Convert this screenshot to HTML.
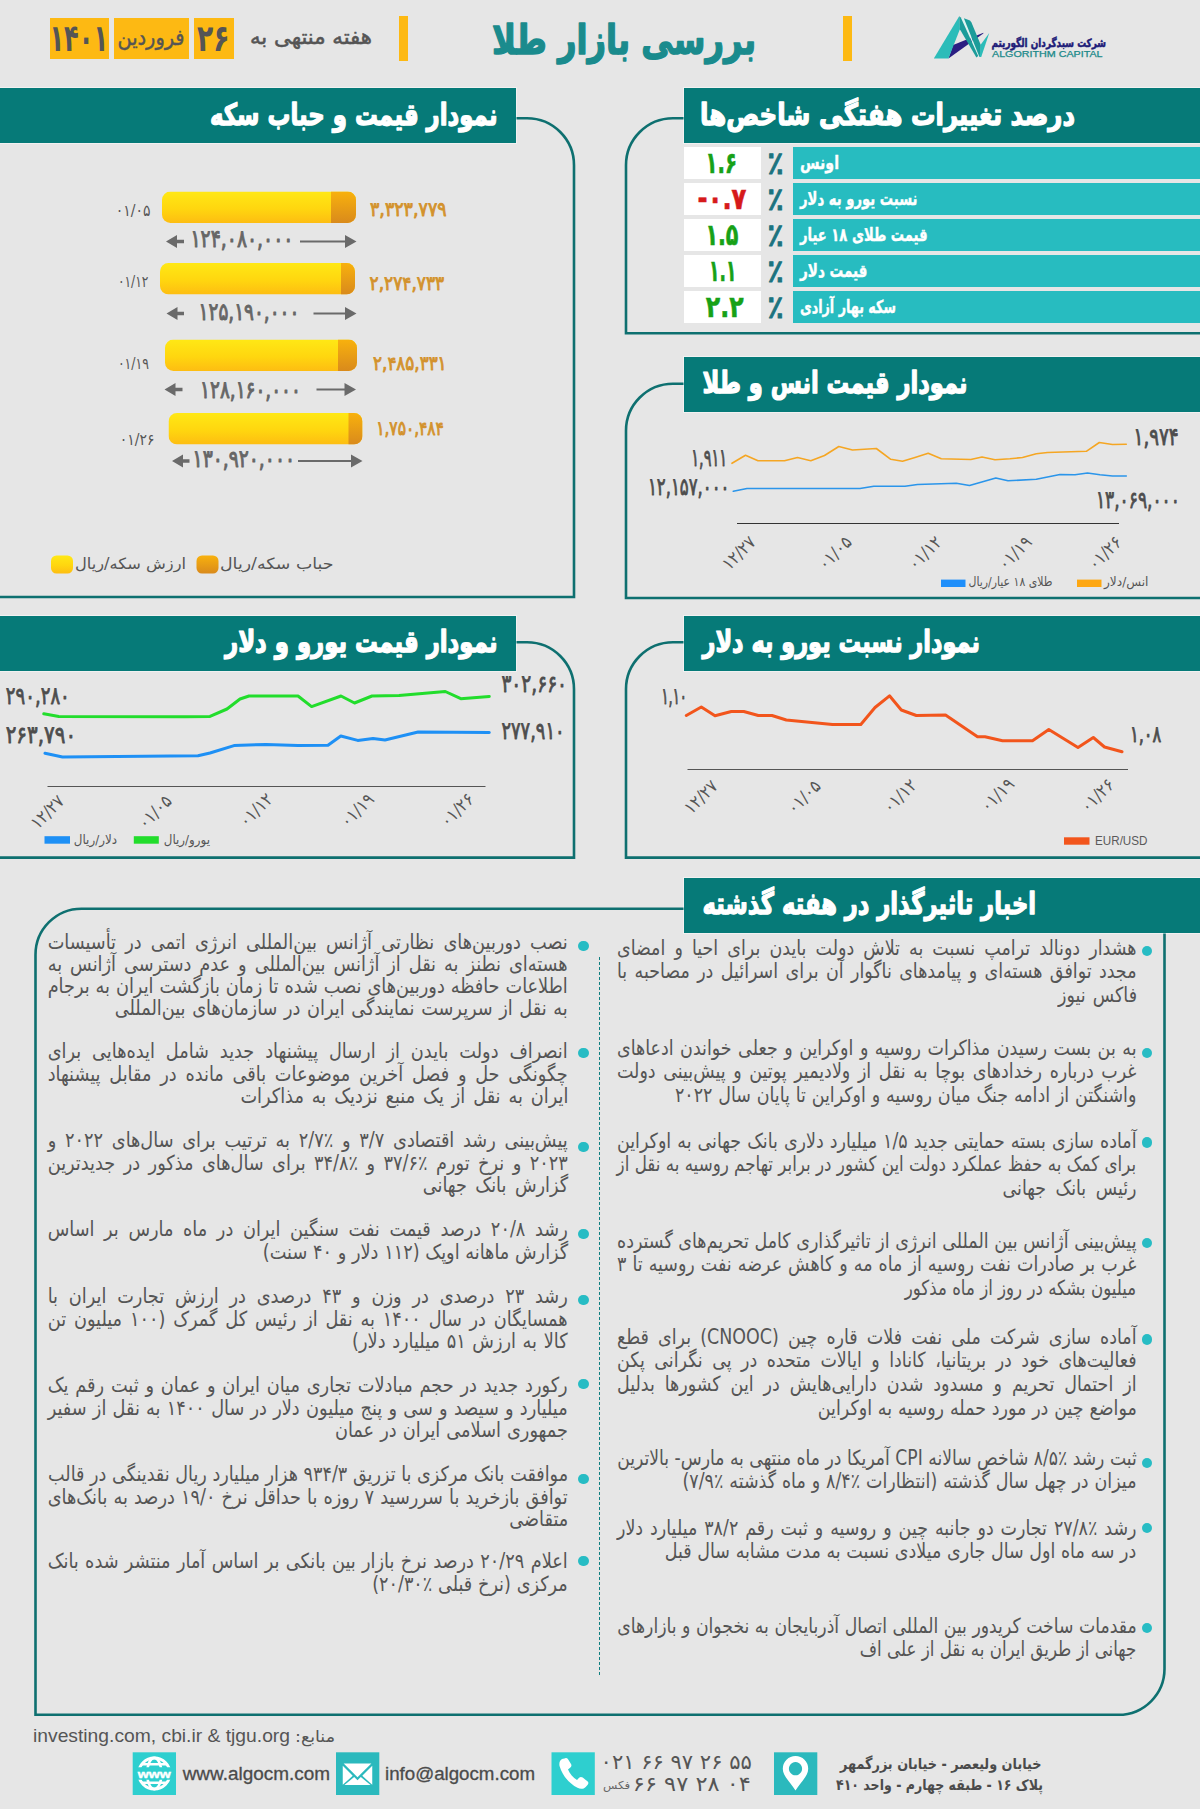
<!DOCTYPE html>
<html lang="fa">
<head>
<meta charset="utf-8">
<title>بررسی بازار طلا</title>
<style>
*{box-sizing:border-box;margin:0;padding:0}
html,body{width:1200px;height:1809px;overflow:hidden}
body{position:relative;background:#e6e6e6;color:#555;font-family:'DejaVu Sans','Liberation Sans',sans-serif}
.abs{position:absolute}
.bar{position:absolute;height:55px;background:#067a78;box-shadow:0 0 0 1px rgba(255,255,255,.45)}
.bar.r{left:684px;width:516px}
.bar.l{left:0;width:516px}
#ov{position:absolute;left:0;top:0;width:1200px;height:1809px;font-family:'DejaVu Sans','Liberation Sans',sans-serif}
.col{position:absolute;left:0;top:0;width:0;height:0;direction:rtl;font-family:'DejaVu Sans','Liberation Sans',sans-serif;color:#555}
.col .ln{position:absolute;white-space:nowrap;text-align:justify;text-align-last:justify;transform-origin:100% 0}
.bl{position:absolute;width:10.4px;height:10.4px;margin:-.2px 0 0 -.2px;border-radius:50%;background:#27bcc4}
</style>
</head>
<body>
<svg class="abs" style="left:0;top:0" width="1200" height="1809" viewBox="0 0 1200 1809"><g fill="none" stroke="#0e7070" stroke-width="2.6"><path d="M686,118.2 H673 A47,47 0 0 0 626,165.2 V333.2 H1202"/><path d="M686,383.7 H673 A47,47 0 0 0 626,430.7 V598 H1202"/><path d="M686,642.2 H673 A47,47 0 0 0 626,689.2 V857.6 H1202"/><path d="M514,118.2 H527 A47,47 0 0 1 574,165.2 V597 H-2"/><path d="M514,642.2 H527 A47,47 0 0 1 574,689.2 V857.6 H-2"/><path d="M686,908.7 H81.5 A46,46 0 0 0 35.5,954.7 V1714.8 H1118.5 A46,46 0 0 0 1164.5,1668.8 V931"/></g></svg>
<div class="bar r" style="top:88px"></div>
<div class="bar l" style="top:88px"></div>
<div class="bar r" style="top:357px"></div>
<div class="bar r" style="top:616px"></div>
<div class="bar l" style="top:616px"></div>
<div class="bar r" style="top:878px"></div>

<div class="abs" style="left:399px;top:16px;width:9px;height:45px;background:#fdb913"></div>
<div class="abs" style="left:843px;top:16px;width:9px;height:45px;background:#fdb913"></div>
<div class="abs" style="left:194px;top:18px;width:40px;height:41px;background:#fdb913"></div>
<div class="abs" style="left:114px;top:18px;width:75px;height:41px;background:#fdb913"></div>
<div class="abs" style="left:50px;top:18px;width:59px;height:41px;background:#fdb913"></div>
<div class="abs" style="left:684px;top:147.0px;width:77px;height:32px;background:#fff"></div><div class="abs" style="left:792.5px;top:147.0px;width:408px;height:32px;background:#27bcc0"></div><div class="abs" style="left:684px;top:183.0px;width:77px;height:32px;background:#fff"></div><div class="abs" style="left:792.5px;top:183.0px;width:408px;height:32px;background:#27bcc0"></div><div class="abs" style="left:684px;top:219.0px;width:77px;height:32px;background:#fff"></div><div class="abs" style="left:792.5px;top:219.0px;width:408px;height:32px;background:#27bcc0"></div><div class="abs" style="left:684px;top:255.0px;width:77px;height:32px;background:#fff"></div><div class="abs" style="left:792.5px;top:255.0px;width:408px;height:32px;background:#27bcc0"></div><div class="abs" style="left:684px;top:291.0px;width:77px;height:32px;background:#fff"></div><div class="abs" style="left:792.5px;top:291.0px;width:408px;height:32px;background:#27bcc0"></div><div class="col" style="font-size:20.6px;line-height:22px">
<div class="ln" style="left:-36.7px;width:604.7px;top:930.7px;transform:scaleX(0.8600)">نصب دوربین‌های نظارتی آژانس بین‌المللی انرژی اتمی در تأسیسات</div>
<div class="ln" style="left:-36.7px;width:604.7px;top:952.8px;transform:scaleX(0.8600)">هسته‌ای نطنز به نقل از آژانس بین‌المللی و عدم دسترسی آژانس به</div>
<div class="ln" style="left:-36.7px;width:604.7px;top:975.0px;transform:scaleX(0.8600)">اطلاعات حافظه دوربین‌های نصب شده تا زمان بازگشت ایران به برجام</div>
<div class="ln" style="left:41.3px;width:526.7px;top:997.1px;transform:scaleX(0.8600)">به نقل از سرپرست نمایندگی ایران در سازمان‌های بین‌المللی</div>
<div class="ln" style="left:-36.7px;width:604.7px;top:1040.4px;transform:scaleX(0.8600)">انصراف دولت بایدن از ارسال پیشنهاد جدید شامل ایده‌هایی برای</div>
<div class="ln" style="left:-36.7px;width:604.7px;top:1062.5px;transform:scaleX(0.8600)">چگونگی حل و فصل آخرین موضوعات باقی مانده در مقابل پیشنهاد</div>
<div class="ln" style="left:186.6px;width:381.4px;top:1084.7px;transform:scaleX(0.8600)">ایران به نقل از یک منبع نزدیک به مذاکرات</div>
<div class="ln" style="left:-36.7px;width:604.7px;top:1129.4px;transform:scaleX(0.8600)">پیش‌بینی رشد اقتصادی ۳/۷ و ٪۲/۷ به ترتیب برای سال‌های ۲۰۲۲ و</div>
<div class="ln" style="left:-36.7px;width:604.7px;top:1151.5px;transform:scaleX(0.8600)">۲۰۲۳ و نرخ تورم ٪۳۷/۶ و ٪۳۴/۸ برای سال‌های مذکور در جدیدترین</div>
<div class="ln" style="left:398.8px;width:169.2px;top:1173.7px;transform:scaleX(0.8600)">گزارش بانک جهانی</div>
<div class="ln" style="left:-36.7px;width:604.7px;top:1218.4px;transform:scaleX(0.8600)">رشد ۲۰/۸ درصد قیمت نفت سنگین ایران در ماه مارس بر اساس</div>
<div class="ln" style="left:212.7px;width:355.3px;top:1240.5px;transform:scaleX(0.8598)">گزارش ماهانه اوپک (۱۱۲ دلار و ۴۰ سنت)</div>
<div class="ln" style="left:-36.7px;width:604.7px;top:1285.4px;transform:scaleX(0.8600)">رشد ۲۳ درصدی در وزن و ۴۳ درصدی در ارزش تجارت ایران با</div>
<div class="ln" style="left:-36.7px;width:604.7px;top:1307.5px;transform:scaleX(0.8600)">همسایگان در سال ۱۴۰۰ به نقل از رئیس کل گمرک (۱۰۰ میلیون تن</div>
<div class="ln" style="left:317.4px;width:250.6px;top:1329.7px;transform:scaleX(0.8600)">کالا به ارزش ۵۱ میلیارد دلار)</div>
<div class="ln" style="left:-36.7px;width:604.7px;top:1374.4px;transform:scaleX(0.8600)">رکورد جدید در حجم مبادلات تجاری میان ایران و عمان و ثبت رقم یک</div>
<div class="ln" style="left:-36.7px;width:604.7px;top:1396.5px;transform:scaleX(0.8600)">میلیارد و سیصد و سی و پنج میلیون دلار در سال ۱۴۰۰ به نقل از سفیر</div>
<div class="ln" style="left:297.1px;width:270.9px;top:1418.7px;transform:scaleX(0.8600)">جمهوری اسلامی ایران در عمان</div>
<div class="ln" style="left:-41.1px;width:609.1px;top:1463.4px;transform:scaleX(0.8537)">موافقت بانک مرکزی با تزریق ۹۳۴/۳ هزار میلیارد ریال نقدینگی در قالب</div>
<div class="ln" style="left:-36.7px;width:604.7px;top:1485.5px;transform:scaleX(0.8600)">توافق بازخرید با سررسید ۷ روزه با حداقل نرخ ۱۹/۰ درصد به بانک‌های</div>
<div class="ln" style="left:497.7px;width:70.3px;top:1507.7px;transform:scaleX(0.8600)">متقاضی</div>
<div class="ln" style="left:-36.7px;width:604.7px;top:1550.4px;transform:scaleX(0.8600)">اعلام ۲۰/۲۹ درصد نرخ بازار بین بانکی بر اساس آمار منتشر شده بانک</div>
<div class="ln" style="left:339.3px;width:228.7px;top:1572.5px;transform:scaleX(0.8550)">مرکزی (نرخ قبلی ٪۲۰/۳۰)</div>
</div>
<div class="bl" style="left:578.5px;top:940.8px"></div>
<div class="bl" style="left:578.5px;top:1047.8px"></div>
<div class="bl" style="left:578.5px;top:1141.8px"></div>
<div class="bl" style="left:578.5px;top:1228.8px"></div>
<div class="bl" style="left:578.5px;top:1294.9px"></div>
<div class="bl" style="left:578.5px;top:1379.2px"></div>
<div class="bl" style="left:578.5px;top:1473.9px"></div>
<div class="bl" style="left:578.5px;top:1555.7px"></div><div class="col" style="font-size:20.8px;line-height:23px">
<div class="ln" style="left:518.0px;width:618.5px;top:936.8px;transform:scaleX(0.8400)">هشدار دونالد ترامپ نسبت به تلاش دولت بایدن برای احیا و امضای</div>
<div class="ln" style="left:518.0px;width:618.5px;top:960.4px;transform:scaleX(0.8400)">مجدد توافق هسته‌ای و پیامدهای ناگوار آن برای اسرائیل در مصاحبه با</div>
<div class="ln" style="left:1042.5px;width:94.0px;top:984.0px;transform:scaleX(0.8400)">فاکس نیوز</div>
<div class="ln" style="left:518.0px;width:618.5px;top:1036.8px;transform:scaleX(0.8400)">به بن بست رسیدن مذاکرات روسیه و اوکراین و جعلی خواندن ادعاهای</div>
<div class="ln" style="left:518.0px;width:618.5px;top:1060.4px;transform:scaleX(0.8400)">غرب درباره رخدادهای بوچا به نقل از ولادیمیر پوتین و پیش‌بینی دولت</div>
<div class="ln" style="left:587.1px;width:549.4px;top:1084.0px;transform:scaleX(0.8400)">واشنگتن از ادامه جنگ میان روسیه و اوکراین تا پایان سال ۲۰۲۲</div>
<div class="ln" style="left:518.0px;width:618.5px;top:1129.8px;transform:scaleX(0.8400)">آماده سازی بسته حمایتی جدید ۱/۵ میلیارد دلاری بانک جهانی به اوکراین</div>
<div class="ln" style="left:489.4px;width:647.1px;top:1153.4px;transform:scaleX(0.8028)">برای کمک به حفظ عملکرد دولت این کشور در برابر تهاجم روسیه به نقل از</div>
<div class="ln" style="left:977.0px;width:159.5px;top:1177.0px;transform:scaleX(0.8400)">رئیس بانک جهانی</div>
<div class="ln" style="left:518.0px;width:618.5px;top:1229.8px;transform:scaleX(0.8399)">پیش‌بینی آژانس بین المللی انرژی از تاثیرگذاری کامل تحریم‌های گسترده</div>
<div class="ln" style="left:518.0px;width:618.5px;top:1253.4px;transform:scaleX(0.8400)">غرب بر صادرات نفت روسیه از ماه مه و کاهش عرضه نفت روسیه تا ۳</div>
<div class="ln" style="left:846.3px;width:290.2px;top:1277.0px;transform:scaleX(0.7976)">میلیون بشکه در روز از ماه مذکور</div>
<div class="ln" style="left:518.0px;width:618.5px;top:1325.8px;transform:scaleX(0.8400)">آماده سازی شرکت ملی نفت فلات قاره چین (CNOOC) برای قطع</div>
<div class="ln" style="left:518.0px;width:618.5px;top:1349.4px;transform:scaleX(0.8400)">فعالیت‌های خود در بریتانیا، کانادا و ایالات متحده در پی نگرانی پکن</div>
<div class="ln" style="left:518.0px;width:618.5px;top:1373.0px;transform:scaleX(0.8400)">از احتمال تحریم و مسدود شدن دارایی‌هایش در این کشورها بدلیل</div>
<div class="ln" style="left:756.7px;width:379.8px;top:1396.6px;transform:scaleX(0.8400)">مواضع چین در مورد حمله روسیه به اوکراین</div>
<div class="ln" style="left:506.8px;width:629.7px;top:1446.8px;transform:scaleX(0.8250)">ثبت رشد ٪۸/۵ شاخص سالانه CPI آمریکا در ماه منتهی به مارس- بالاترین</div>
<div class="ln" style="left:596.0px;width:540.5px;top:1470.4px;transform:scaleX(0.8400)">میزان در چهل سال گذشته (انتظارات ٪۸/۴ و ماه گذشته ٪۷/۹)</div>
<div class="ln" style="left:518.0px;width:618.5px;top:1516.8px;transform:scaleX(0.8400)">رشد ٪۲۷/۸ تجارت دو جانبه چین و روسیه و ثبت رقم ۳۸/۲ میلیارد دلار</div>
<div class="ln" style="left:575.2px;width:561.3px;top:1540.4px;transform:scaleX(0.8400)">در سه ماه اول سال جاری میلادی نسبت به مدت مشابه سال قبل</div>
<div class="ln" style="left:509.8px;width:626.7px;top:1614.8px;transform:scaleX(0.8289)">مقدمات ساخت کریدور بین المللی اتصال آذربایجان به نخجوان و بازارهای</div>
<div class="ln" style="left:791.2px;width:345.3px;top:1638.4px;transform:scaleX(0.8008)">جهانی از طریق ایران به نقل از علی اف</div>
</div>
<div class="bl" style="left:1142.0px;top:946.0px"></div>
<div class="bl" style="left:1142.0px;top:1047.8px"></div>
<div class="bl" style="left:1142.0px;top:1137.4px"></div>
<div class="bl" style="left:1142.0px;top:1238.0px"></div>
<div class="bl" style="left:1142.0px;top:1334.5px"></div>
<div class="bl" style="left:1142.0px;top:1457.7px"></div>
<div class="bl" style="left:1142.0px;top:1523.0px"></div>
<div class="bl" style="left:1142.0px;top:1623.2px"></div><div class="abs" style="left:599px;top:957px;width:0;height:718px;border-left:1.5px dashed #0f7f80"></div>
<svg id="ov" width="1200" height="1809" viewBox="0 0 1200 1809">
<text font-size="41" fill="#1a8b8d" textLength="264.0" lengthAdjust="spacingAndGlyphs" font-weight="bold" stroke="#1a8b8d" stroke-width="1.5" stroke-linejoin="round" x="756.0" y="53.5" direction="rtl" unicode-bidi="embed" >بررسی بازار طلا</text>
<text font-size="21" fill="#555" textLength="122.0" lengthAdjust="spacingAndGlyphs" stroke="#555" stroke-width="0.55" stroke-linejoin="round" x="372.0" y="44.0" direction="rtl" unicode-bidi="embed" >هفته منتهی به</text>
<text font-size="37.4" fill="#555" textLength="32.6" lengthAdjust="spacingAndGlyphs" font-weight="bold" x="196.9" y="50.8" direction="ltr" >۲۶</text>
<text font-size="22" fill="#555" textLength="67.0" lengthAdjust="spacingAndGlyphs" stroke="#555" stroke-width="0.45" stroke-linejoin="round" x="184.5" y="44.5" direction="rtl" unicode-bidi="embed" >فروردین</text>
<text font-size="37.4" fill="#555" textLength="58.8" lengthAdjust="spacingAndGlyphs" font-weight="bold" x="49.4" y="50.8" direction="ltr" >۱۴۰۱</text>

<g id="logo">
 <polygon points="953.09,45.01 948.42,58.42 983.31,33.45 983.43,32.87" fill="#2b1e82"/>
 <polygon points="933.83,58.42 959.21,16.13 959.97,28.96 948.42,58.42" fill="#2cbcb9"/>
 <polygon points="961.55,18.75 963.88,18.17 979.34,56.67 978.18,56.09" fill="#dcf4f2"/>
 <polygon points="959.21,16.13 960.79,17.47 978.18,56.09 976.42,57.55 959.86,29.25" fill="#1b9c9a"/>
 <polygon points="963.88,18.17 970.01,20.50 971.47,22.54 980.80,45.01 980.51,56.67 979.34,56.67" fill="#1b9c9a"/>
 <polygon points="980.80,44.42 989.26,33.05 981.21,56.97 979.63,56.97" fill="#2cbcb9"/>
</g>
<text font-size="11.5" fill="#211c78" textLength="114.5" lengthAdjust="spacingAndGlyphs" font-weight="bold" stroke="#211c78" stroke-width="0.5" stroke-linejoin="round" x="1106.0" y="46.5" direction="rtl" unicode-bidi="embed" >شرکت سبدگردان الگوریتم</text>
<text font-size="8.2" fill="#1c8a8a" textLength="110.5" lengthAdjust="spacingAndGlyphs" font-family="'Liberation Sans','DejaVu Sans',sans-serif" stroke="#1c8a8a" stroke-width="0.25" stroke-linejoin="round" x="992.0" y="57.2" direction="ltr" >ALGORITHM CAPITAL</text>
<text font-size="30" fill="#ffffff" textLength="375.0" lengthAdjust="spacingAndGlyphs" font-weight="bold" stroke="#ffffff" stroke-width="1.3" stroke-linejoin="round" x="1075.0" y="124.5" direction="rtl" unicode-bidi="embed" >درصد تغییرات هفتگی شاخص‌ها</text>
<text font-size="30" fill="#ffffff" textLength="287.5" lengthAdjust="spacingAndGlyphs" font-weight="bold" stroke="#ffffff" stroke-width="1.3" stroke-linejoin="round" x="497.5" y="124.5" direction="rtl" unicode-bidi="embed" >نمودار قیمت و حباب سکه</text>
<text font-size="30" fill="#ffffff" textLength="265.0" lengthAdjust="spacingAndGlyphs" font-weight="bold" stroke="#ffffff" stroke-width="1.3" stroke-linejoin="round" x="967.5" y="393.0" direction="rtl" unicode-bidi="embed" >نمودار قیمت انس و طلا</text>
<text font-size="30" fill="#ffffff" textLength="277.5" lengthAdjust="spacingAndGlyphs" font-weight="bold" stroke="#ffffff" stroke-width="1.3" stroke-linejoin="round" x="980.0" y="652.0" direction="rtl" unicode-bidi="embed" >نمودار نسبت یورو به دلار</text>
<text font-size="30" fill="#ffffff" textLength="272.5" lengthAdjust="spacingAndGlyphs" font-weight="bold" stroke="#ffffff" stroke-width="1.3" stroke-linejoin="round" x="497.5" y="652.0" direction="rtl" unicode-bidi="embed" >نمودار قیمت یورو و دلار</text>
<text font-size="30" fill="#ffffff" textLength="333.5" lengthAdjust="spacingAndGlyphs" font-weight="bold" stroke="#ffffff" stroke-width="1.3" stroke-linejoin="round" x="1036.0" y="914.0" direction="rtl" unicode-bidi="embed" >اخبار تاثیرگذار در هفته گذشته</text>
<text font-size="18" fill="#ffffff" textLength="39.0" lengthAdjust="spacingAndGlyphs" font-weight="bold" stroke="#ffffff" stroke-width="0.4" stroke-linejoin="round" x="839.0" y="169.0" direction="rtl" unicode-bidi="embed" >اونس</text>
<text font-size="32" fill="#1b737f" textLength="16.0" lengthAdjust="spacingAndGlyphs" font-weight="bold" stroke="#1b737f" stroke-width="1.0" stroke-linejoin="round" x="767.5" y="174.0" direction="ltr" >٪</text>
<text font-size="29.8" fill="#17a117" textLength="31.5" lengthAdjust="spacingAndGlyphs" font-weight="bold" x="705.4" y="172.8" direction="ltr" stroke="#17a117" stroke-width="0.6">۱.۶</text>
<text font-size="18" fill="#ffffff" textLength="117.5" lengthAdjust="spacingAndGlyphs" font-weight="bold" stroke="#ffffff" stroke-width="0.4" stroke-linejoin="round" x="917.5" y="205.0" direction="rtl" unicode-bidi="embed" >نسبت یورو به دلار</text>
<text font-size="32" fill="#1b737f" textLength="16.0" lengthAdjust="spacingAndGlyphs" font-weight="bold" stroke="#1b737f" stroke-width="1.0" stroke-linejoin="round" x="767.5" y="210.0" direction="ltr" >٪</text>
<text font-size="29.8" fill="#d61a1a" textLength="48.8" lengthAdjust="spacingAndGlyphs" font-weight="bold" x="697.6" y="208.8" direction="ltr" stroke="#d61a1a" stroke-width="0.6">-۰.۷</text>
<text font-size="18" fill="#ffffff" textLength="127.5" lengthAdjust="spacingAndGlyphs" font-weight="bold" stroke="#ffffff" stroke-width="0.4" stroke-linejoin="round" x="927.5" y="241.0" direction="rtl" unicode-bidi="embed" >قیمت طلای ۱۸ عیار</text>
<text font-size="32" fill="#1b737f" textLength="16.0" lengthAdjust="spacingAndGlyphs" font-weight="bold" stroke="#1b737f" stroke-width="1.0" stroke-linejoin="round" x="767.5" y="246.0" direction="ltr" >٪</text>
<text font-size="29.8" fill="#17a117" textLength="33.1" lengthAdjust="spacingAndGlyphs" font-weight="bold" x="705.4" y="244.8" direction="ltr" stroke="#17a117" stroke-width="0.6">۱.۵</text>
<text font-size="18" fill="#ffffff" textLength="67.5" lengthAdjust="spacingAndGlyphs" font-weight="bold" stroke="#ffffff" stroke-width="0.4" stroke-linejoin="round" x="867.5" y="277.0" direction="rtl" unicode-bidi="embed" >قیمت دلار</text>
<text font-size="32" fill="#1b737f" textLength="16.0" lengthAdjust="spacingAndGlyphs" font-weight="bold" stroke="#1b737f" stroke-width="1.0" stroke-linejoin="round" x="767.5" y="282.0" direction="ltr" >٪</text>
<text font-size="29.8" fill="#17a117" textLength="27.3" lengthAdjust="spacingAndGlyphs" font-weight="bold" x="709.0" y="280.8" direction="ltr" stroke="#17a117" stroke-width="0.6">۱.۱</text>
<text font-size="18" fill="#ffffff" textLength="96.0" lengthAdjust="spacingAndGlyphs" font-weight="bold" stroke="#ffffff" stroke-width="0.4" stroke-linejoin="round" x="896.0" y="313.0" direction="rtl" unicode-bidi="embed" >سکه بهار آزادی</text>
<text font-size="32" fill="#1b737f" textLength="16.0" lengthAdjust="spacingAndGlyphs" font-weight="bold" stroke="#1b737f" stroke-width="1.0" stroke-linejoin="round" x="767.5" y="318.0" direction="ltr" >٪</text>
<text font-size="29.8" fill="#17a117" textLength="37.8" lengthAdjust="spacingAndGlyphs" font-weight="bold" x="705.8" y="316.8" direction="ltr" stroke="#17a117" stroke-width="0.6">۲.۲</text>
<defs>
<linearGradient id="gy" x1="0" y1="0" x2="0" y2="1"><stop offset="0" stop-color="#ffe815"/><stop offset=".55" stop-color="#ffd60f"/><stop offset="1" stop-color="#fdbd12"/></linearGradient>
<linearGradient id="go" x1="0" y1="0" x2="0" y2="1"><stop offset="0" stop-color="#f8b10d"/><stop offset="1" stop-color="#d98a1c"/></linearGradient>
</defs>
<clipPath id="cc0"><rect x="162" y="191.5" width="194" height="31.5" rx="8.5"/></clipPath><g clip-path="url(#cc0)"><rect x="162" y="191.5" width="194" height="31.5" fill="url(#gy)"/><rect x="331" y="191.5" width="25" height="31.5" fill="url(#go)"/></g>
<text font-size="16.0" fill="#555" textLength="34.7" lengthAdjust="spacingAndGlyphs" x="115.8" y="215.8" direction="ltr" >۰۱/۰۵</text>
<text font-size="19.5" fill="#d3922c" textLength="76.6" lengthAdjust="spacingAndGlyphs" stroke="#d3922c" stroke-width="0.9" stroke-linejoin="round" x="370.0" y="216.4" direction="ltr" >۳,۳۲۳,۷۷۹</text>
<text font-size="24.1" fill="#666" textLength="102.9" lengthAdjust="spacingAndGlyphs" stroke="#666" stroke-width="1.0" stroke-linejoin="round" x="190.5" y="246.9" direction="ltr" >۱۲۴,۰۸۰,۰۰۰</text>
<path d="M166,241.5 l11,-6.5 v4.7 h7 v3.6 h-7 v4.7 z" fill="#6a6a6a"/>
<path d="M356.5,241.5 l-11.5,-6.5 v5.5 h-45.0 v2 h45.0 v5.5 z" fill="#6a6a6a"/>
<clipPath id="cc1"><rect x="160" y="263" width="195" height="31.5" rx="8.5"/></clipPath><g clip-path="url(#cc1)"><rect x="160" y="263" width="195" height="31.5" fill="url(#gy)"/><rect x="341" y="263" width="14" height="31.5" fill="url(#go)"/></g>
<text font-size="16.0" fill="#555" textLength="30.5" lengthAdjust="spacingAndGlyphs" x="117.9" y="287.2" direction="ltr" >۰۱/۱۲</text>
<text font-size="19.5" fill="#d3922c" textLength="74.6" lengthAdjust="spacingAndGlyphs" stroke="#d3922c" stroke-width="0.9" stroke-linejoin="round" x="369.6" y="290.4" direction="ltr" >۲,۲۷۴,۷۳۳</text>
<text font-size="24.1" fill="#666" textLength="100.8" lengthAdjust="spacingAndGlyphs" stroke="#666" stroke-width="1.0" stroke-linejoin="round" x="198.6" y="319.9" direction="ltr" >۱۲۵,۱۹۰,۰۰۰</text>
<path d="M166.5,313.5 l11,-6.5 v4.7 h6.5 v3.6 h-6.5 v4.7 z" fill="#6a6a6a"/>
<path d="M356.5,313.5 l-11.5,-6.5 v5.5 h-31.5 v2 h31.5 v5.5 z" fill="#6a6a6a"/>
<clipPath id="cc2"><rect x="165" y="339.5" width="192" height="31.5" rx="8.5"/></clipPath><g clip-path="url(#cc2)"><rect x="165" y="339.5" width="192" height="31.5" fill="url(#gy)"/><rect x="338" y="339.5" width="19" height="31.5" fill="url(#go)"/></g>
<text font-size="16.0" fill="#555" textLength="31.0" lengthAdjust="spacingAndGlyphs" x="117.9" y="368.8" direction="ltr" >۰۱/۱۹</text>
<text font-size="19.5" fill="#d3922c" textLength="73.5" lengthAdjust="spacingAndGlyphs" stroke="#d3922c" stroke-width="0.9" stroke-linejoin="round" x="373.1" y="369.9" direction="ltr" >۲,۴۸۵,۳۳۱</text>
<text font-size="24.1" fill="#666" textLength="100.8" lengthAdjust="spacingAndGlyphs" stroke="#666" stroke-width="1.0" stroke-linejoin="round" x="200.1" y="398.1" direction="ltr" >۱۲۸,۱۶۰,۰۰۰</text>
<path d="M164.5,389.5 l11,-6.5 v4.7 h7.0 v3.6 h-7.0 v4.7 z" fill="#6a6a6a"/>
<path d="M356,389.5 l-11.5,-6.5 v5.5 h-28.0 v2 h28.0 v5.5 z" fill="#6a6a6a"/>
<clipPath id="cc3"><rect x="168.5" y="413" width="194.0" height="31.5" rx="8.5"/></clipPath><g clip-path="url(#cc3)"><rect x="168.5" y="413" width="194.0" height="31.5" fill="url(#gy)"/><rect x="348.5" y="413" width="14.0" height="31.5" fill="url(#go)"/></g>
<text font-size="16.0" fill="#555" textLength="34.7" lengthAdjust="spacingAndGlyphs" x="119.8" y="445.2" direction="ltr" >۰۱/۲۶</text>
<text font-size="19.5" fill="#d3922c" textLength="67.7" lengthAdjust="spacingAndGlyphs" stroke="#d3922c" stroke-width="0.9" stroke-linejoin="round" x="376.2" y="434.9" direction="ltr" >۱,۷۵۰,۴۸۴</text>
<text font-size="24.1" fill="#666" textLength="102.4" lengthAdjust="spacingAndGlyphs" stroke="#666" stroke-width="1.0" stroke-linejoin="round" x="192.6" y="466.9" direction="ltr" >۱۳۰,۹۲۰,۰۰۰</text>
<path d="M172,461 l11,-6.5 v4.7 h6.5 v3.6 h-6.5 v4.7 z" fill="#6a6a6a"/>
<path d="M362.5,461 l-11.5,-6.5 v5.5 h-53.0 v2 h53.0 v5.5 z" fill="#6a6a6a"/>
<rect x="51" y="555.5" width="22" height="18" rx="5.5" fill="url(#gy)"/><rect x="196.5" y="555.5" width="22" height="18" rx="5.5" fill="url(#go)"/>
<text font-size="15.5" fill="#555" textLength="111.0" lengthAdjust="spacingAndGlyphs" x="186.0" y="568.5" direction="rtl" unicode-bidi="embed" >ارزش سکه/ریال</text>
<text font-size="15.5" fill="#555" textLength="113.5" lengthAdjust="spacingAndGlyphs" x="333.5" y="568.5" direction="rtl" unicode-bidi="embed" >حباب سکه/ریال</text>
<polyline fill="none" stroke="#f5a623" stroke-width="1.6" stroke-linejoin="round" stroke-linecap="round" points="732.0,463.3 745.5,455.3 758.0,460.8 784.5,460.8 797.5,457.5 810.8,460.8 824.5,455.5 838.8,446.5 852.5,450.0 876.3,448.5 890.8,459.3 902.5,461.3 915.0,457.5 928.2,453.3 941.3,458.8 970.8,459.5 982.0,457.0 995.0,459.8 1010.0,458.8 1022.5,457.5 1036.3,453.8 1047.5,452.5 1086.3,451.3 1099.3,442.5 1112.5,444.5 1126.3,444.3"/>
<polyline fill="none" stroke="#2b95ea" stroke-width="1.6" stroke-linejoin="round" stroke-linecap="round" points="733.3,491.3 747.0,488.5 860.0,488.5 873.8,486.3 905.0,486.3 917.5,484.5 956.3,483.3 969.5,485.5 995.8,478.0 1008.0,480.8 1036.3,479.3 1060.0,474.5 1075.0,474.8 1087.5,473.0 1100.0,474.8 1112.5,476.0 1126.3,476.0"/>
<line x1="737" y1="523.5" x2="1119" y2="523.5" stroke="#333" stroke-width="1"/>
<text font-size="24.1" fill="#4d4d4d" textLength="35.7" lengthAdjust="spacingAndGlyphs" stroke="#4d4d4d" stroke-width="0.85" stroke-linejoin="round" x="691.3" y="465.9" direction="ltr" >۱,۹۱۱</text>
<text font-size="24.1" fill="#4d4d4d" textLength="81.4" lengthAdjust="spacingAndGlyphs" stroke="#4d4d4d" stroke-width="0.85" stroke-linejoin="round" x="648.0" y="495.4" direction="ltr" >۱۲,۱۵۷,۰۰۰</text>
<text font-size="24.1" fill="#4d4d4d" textLength="45.1" lengthAdjust="spacingAndGlyphs" stroke="#4d4d4d" stroke-width="0.85" stroke-linejoin="round" x="1133.6" y="444.9" direction="ltr" >۱,۹۷۴</text>
<text font-size="24.1" fill="#4d4d4d" textLength="84.0" lengthAdjust="spacingAndGlyphs" stroke="#4d4d4d" stroke-width="0.85" stroke-linejoin="round" x="1095.9" y="508.4" direction="ltr" >۱۳,۰۶۹,۰۰۰</text>
<text transform="translate(739.0,553.0) rotate(-45)" x="-19.5" y="5.8" font-size="17.6" fill="#555" textLength="39" lengthAdjust="spacingAndGlyphs" direction="ltr">۱۲/۲۷</text>
<text transform="translate(835.0,553.0) rotate(-45)" x="-19.5" y="5.8" font-size="17.6" fill="#555" textLength="39" lengthAdjust="spacingAndGlyphs" direction="ltr">۰۱/۰۵</text>
<text transform="translate(925.0,553.0) rotate(-45)" x="-19.5" y="5.8" font-size="17.6" fill="#555" textLength="39" lengthAdjust="spacingAndGlyphs" direction="ltr">۰۱/۱۲</text>
<text transform="translate(1015.0,553.0) rotate(-45)" x="-19.5" y="5.8" font-size="17.6" fill="#555" textLength="39" lengthAdjust="spacingAndGlyphs" direction="ltr">۰۱/۱۹</text>
<text transform="translate(1105.0,553.0) rotate(-45)" x="-19.5" y="5.8" font-size="17.6" fill="#555" textLength="39" lengthAdjust="spacingAndGlyphs" direction="ltr">۰۱/۲۶</text>
<rect x="941" y="579.6" width="24.5" height="7.4" fill="#1f8ffa"/><rect x="1077" y="579.6" width="24.5" height="7.4" fill="#fda712"/>
<text font-size="12.5" fill="#555" textLength="84.0" lengthAdjust="spacingAndGlyphs" x="1052.5" y="586.0" direction="rtl" unicode-bidi="embed" >طلای ۱۸ عیار/ریال</text>
<text font-size="12.5" fill="#555" textLength="44.5" lengthAdjust="spacingAndGlyphs" x="1148.5" y="586.0" direction="rtl" unicode-bidi="embed" >انس/دلار</text>
<polyline fill="none" stroke="#f2551c" stroke-width="3" stroke-linejoin="round" stroke-linecap="round" points="686.3,715.5 701.3,707.0 715.0,715.8 731.3,711.5 743.8,711.5 758.3,715.5 772.0,715.5 786.3,720.0 832.5,724.5 860.8,724.5 875.0,707.5 889.5,695.8 901.3,710.0 916.3,715.5 945.5,715.0 977.5,736.8 985.0,736.8 1002.5,740.8 1032.5,740.8 1048.8,729.5 1078.0,747.5 1093.3,737.5 1104.5,747.0 1122.0,751.8"/>
<line x1="687.5" y1="769.5" x2="1128" y2="769.5" stroke="#555" stroke-width="1"/>
<text font-size="22.6" fill="#4d4d4d" textLength="25.2" lengthAdjust="spacingAndGlyphs" stroke="#4d4d4d" stroke-width="0.85" stroke-linejoin="round" x="661.5" y="704.2" direction="ltr" >۱,۱۰</text>
<text font-size="22.6" fill="#4d4d4d" textLength="31.5" lengthAdjust="spacingAndGlyphs" stroke="#4d4d4d" stroke-width="0.85" stroke-linejoin="round" x="1129.9" y="741.9" direction="ltr" >۱,۰۸</text>
<text transform="translate(701.0,797.0) rotate(-45)" x="-19.5" y="5.8" font-size="17.6" fill="#555" textLength="39" lengthAdjust="spacingAndGlyphs" direction="ltr">۱۲/۲۷</text>
<text transform="translate(804.0,797.0) rotate(-45)" x="-19.5" y="5.8" font-size="17.6" fill="#555" textLength="39" lengthAdjust="spacingAndGlyphs" direction="ltr">۰۱/۰۵</text>
<text transform="translate(900.0,796.0) rotate(-45)" x="-19.5" y="5.8" font-size="17.6" fill="#555" textLength="39" lengthAdjust="spacingAndGlyphs" direction="ltr">۰۱/۱۲</text>
<text transform="translate(997.5,795.0) rotate(-45)" x="-19.5" y="5.8" font-size="17.6" fill="#555" textLength="39" lengthAdjust="spacingAndGlyphs" direction="ltr">۰۱/۱۹</text>
<text transform="translate(1097.5,795.5) rotate(-45)" x="-19.5" y="5.8" font-size="17.6" fill="#555" textLength="39" lengthAdjust="spacingAndGlyphs" direction="ltr">۰۱/۲۶</text>
<rect x="1064" y="837.3" width="25.5" height="7.4" fill="#f2551c"/>
<text font-size="12.3" fill="#5a5a5a" textLength="52.5" lengthAdjust="spacingAndGlyphs" font-family="'Liberation Sans','DejaVu Sans',sans-serif" x="1095.0" y="844.5" direction="ltr" >EUR/USD</text>
<polyline fill="none" stroke="#22dd2c" stroke-width="3" stroke-linejoin="round" stroke-linecap="round" points="43.8,713.8 58.8,716.5 185.0,716.8 210.0,716.4 227.0,709.0 240.0,699.0 249.0,696.0 298.0,696.0 311.6,706.6 341.0,696.0 354.5,703.0 372.0,696.0 399.0,695.6 445.3,691.5 460.8,698.7 489.3,696.5"/>
<polyline fill="none" stroke="#1e90f5" stroke-width="3" stroke-linejoin="round" stroke-linecap="round" points="45.0,753.3 62.5,757.0 198.0,755.8 210.0,753.0 234.0,745.6 266.0,744.4 298.0,745.6 328.0,745.2 340.8,736.0 357.7,740.4 373.0,738.4 385.0,740.0 418.1,732.0 489.3,732.5"/>
<line x1="47.5" y1="786.5" x2="485.5" y2="786.5" stroke="#555" stroke-width="1"/>
<text font-size="24.1" fill="#4d4d4d" textLength="64.0" lengthAdjust="spacingAndGlyphs" stroke="#4d4d4d" stroke-width="0.85" stroke-linejoin="round" x="5.8" y="703.9" direction="ltr" >۲۹۰,۲۸۰</text>
<text font-size="24.1" fill="#4d4d4d" textLength="70.4" lengthAdjust="spacingAndGlyphs" stroke="#4d4d4d" stroke-width="0.85" stroke-linejoin="round" x="5.7" y="742.9" direction="ltr" >۲۶۳,۷۹۰</text>
<text font-size="24.1" fill="#4d4d4d" textLength="65.7" lengthAdjust="spacingAndGlyphs" stroke="#4d4d4d" stroke-width="0.85" stroke-linejoin="round" x="501.4" y="691.9" direction="ltr" >۳۰۲,۶۶۰</text>
<text font-size="24.1" fill="#4d4d4d" textLength="63.0" lengthAdjust="spacingAndGlyphs" stroke="#4d4d4d" stroke-width="0.85" stroke-linejoin="round" x="501.5" y="738.6" direction="ltr" >۲۷۷,۹۱۰</text>
<text transform="translate(47.5,812.0) rotate(-45)" x="-19.5" y="5.8" font-size="17.6" fill="#555" textLength="39" lengthAdjust="spacingAndGlyphs" direction="ltr">۱۲/۲۷</text>
<text transform="translate(155.0,812.0) rotate(-45)" x="-19.5" y="5.8" font-size="17.6" fill="#555" textLength="39" lengthAdjust="spacingAndGlyphs" direction="ltr">۰۱/۰۵</text>
<text transform="translate(256.0,810.0) rotate(-45)" x="-19.5" y="5.8" font-size="17.6" fill="#555" textLength="39" lengthAdjust="spacingAndGlyphs" direction="ltr">۰۱/۱۲</text>
<text transform="translate(357.3,810.3) rotate(-45)" x="-19.5" y="5.8" font-size="17.6" fill="#555" textLength="39" lengthAdjust="spacingAndGlyphs" direction="ltr">۰۱/۱۹</text>
<text transform="translate(457.3,810.0) rotate(-45)" x="-19.5" y="5.8" font-size="17.6" fill="#555" textLength="39" lengthAdjust="spacingAndGlyphs" direction="ltr">۰۱/۲۶</text>
<rect x="44.5" y="836.2" width="25.5" height="7.5" fill="#1e90f5"/><rect x="133.8" y="836.2" width="25" height="7.5" fill="#22dd2c"/>
<text font-size="13" fill="#555" textLength="43.2" lengthAdjust="spacingAndGlyphs" x="117.0" y="843.7" direction="rtl" unicode-bidi="embed" >دلار/ریال</text>
<text font-size="13" fill="#555" textLength="46.2" lengthAdjust="spacingAndGlyphs" x="210.0" y="843.7" direction="rtl" unicode-bidi="embed" >یورو/ریال</text>
<text font-size="18.6" fill="#555" textLength="257.0" lengthAdjust="spacingAndGlyphs" font-family="'Liberation Sans','DejaVu Sans',sans-serif" x="33.0" y="1742.0" direction="ltr" >investing.com, cbi.ir &amp; tjgu.org</text>
<text font-size="16" fill="#555" textLength="40.0" lengthAdjust="spacingAndGlyphs" x="335.0" y="1741.5" direction="rtl" unicode-bidi="embed" >منابع:</text>
<rect x="132.7" y="1752.3" width="43.3" height="42.7" fill="#2ecfcf"/>
<rect x="336" y="1752.3" width="43.3" height="42.7" fill="#2bb9bd"/>
<rect x="551.5" y="1752.3" width="43.3" height="42.7" fill="#2ecfcf"/>
<rect x="774" y="1752.3" width="43.3" height="42.7" fill="#2bb9bd"/>
<g transform="translate(154.3,1773.5)" fill="none" stroke="#fff" stroke-width="3">
<clipPath id="gcl"><path d="M-22,-22 H22 V-6.2 H-22 Z M-22,6.2 H22 V22 H-22 Z"/></clipPath>
<g clip-path="url(#gcl)"><circle r="15.6"/><ellipse rx="7.2" ry="15.6" stroke-width="2.6"/>
<path d="M-13,-9.300 H13 M-13,9.300 H13" stroke-width="2.6"/></g>
</g>
<text x="154.3" y="1777.6" text-anchor="middle" font-family="'Liberation Sans','DejaVu Sans',sans-serif" font-weight="bold" font-size="11.5" fill="#fff" stroke="#fff" stroke-width="0.4" textLength="33" lengthAdjust="spacingAndGlyphs" direction="ltr">www</text>
<g transform="translate(357.5,1774.2) scale(0.92,1)" fill="#fff">
<path d="M-15,-10.8 H15 L0,3 Z"/>
<path d="M-16,-8.4 L-5.2,1.600 L-16,10.600 Z"/><path d="M16,-8.400 L5.200,1.600 L16,10.600 Z"/>
<path d="M-14.200,10.800 L-3.600,2.800 L0,6 L3.600,2.800 L14.200,10.800 Z"/>
</g>
<g transform="translate(573,1773.6)"><path fill="#fff" d="M-8.6,-15.2 c1.3,-0.9 2.7,-0.6 3.5,0.7 l3.1,5 c0.8,1.3 0.5,2.6 -0.6,3.5 l-2.4,1.8 c1.6,4 5.3,8.3 9,10.6 l2.1,-2.2 c1,-1 2.4,-1.1 3.6,-0.2 l4.7,3.6 c1.2,0.9 1.3,2.4 0.3,3.5 l-2,2.2 c-2,2.1 -5.2,2.4 -8.2,0.9 c-8.3,-4.2 -15.3,-12.600 -17.800,-21.300 c-0.9,-3.1 0,-6 2.300,-7.400 z"/></g>
<g transform="translate(795.5,1772.6)"><path fill="#fff" fill-rule="evenodd" d="M0,-16.600 a12.700,12.700 0 0 1 12.700,12.700 c0,7.400 -7.700,13.600 -12.700,21.800 c-5,-8.200 -12.700,-14.400 -12.700,-21.800 a12.700,12.700 0 0 1 12.700,-12.700 z M0,-10.500 a6.600,6.600 0 1 0 0.010,0 z"/></g>
<text font-size="18" fill="#4b4b4b" textLength="147.3" lengthAdjust="spacingAndGlyphs" font-family="'Liberation Sans','DejaVu Sans',sans-serif" stroke="#4b4b4b" stroke-width="0.3" stroke-linejoin="round" x="182.7" y="1779.5" direction="ltr" >www.algocm.com</text>
<text font-size="18" fill="#4b4b4b" textLength="150.0" lengthAdjust="spacingAndGlyphs" font-family="'Liberation Sans','DejaVu Sans',sans-serif" stroke="#4b4b4b" stroke-width="0.3" stroke-linejoin="round" x="385.0" y="1779.5" direction="ltr" >info@algocm.com</text>
<text font-size="20.6" fill="#555" textLength="151.2" lengthAdjust="spacingAndGlyphs" x="600.6" y="1769.2" direction="ltr" >۰۲۱ ۶۶ ۹۷ ۲۶ ۵۵</text>
<text font-size="20.6" fill="#555" textLength="118.1" lengthAdjust="spacingAndGlyphs" x="632.8" y="1790.8" direction="ltr" >۶۶ ۹۷ ۲۸ ۰۴</text>
<text font-size="11" fill="#666" textLength="27.0" lengthAdjust="spacingAndGlyphs" x="630.0" y="1788.5" direction="rtl" unicode-bidi="embed" >فکس</text>
<text font-size="15" fill="#4b4b4b" textLength="201.5" lengthAdjust="spacingAndGlyphs" font-weight="bold" x="1041.5" y="1769.0" direction="rtl" unicode-bidi="embed" >خیابان ولیعصر - خیابان بزرگمهر</text>
<text font-size="15" fill="#4b4b4b" textLength="207.0" lengthAdjust="spacingAndGlyphs" font-weight="bold" x="1043.0" y="1789.5" direction="rtl" unicode-bidi="embed" >پلاک ۱۶ - طبقه چهارم - واحد ۴۱۰</text>
</svg>
</body>
</html>
